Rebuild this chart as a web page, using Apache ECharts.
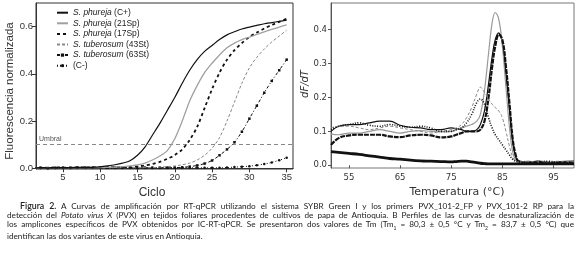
<!DOCTYPE html>
<html>
<head>
<meta charset="utf-8">
<script src="https://cdn.jsdelivr.net/npm/echarts@6/dist/echarts.min.js"></script>
<style>
  body { margin: 0; background: #fff; }
  #grafico { position: absolute; left: 0; top: 0; width: 577px; height: 253px; }
  #leyenda { position: absolute; left: 7px; top: 202px; width: 567px; font-family: Lato, "Open Sans", sans-serif; font-size: 8.2px; line-height: 8.8px; color: #222; z-index: 2; }
  #leyenda div { white-space: nowrap; text-align: justify; text-align-last: justify; }
  #leyenda div.ultima { text-align-last: left; }
  #leyenda b { font-weight: 600; font-size: 8.8px; }
</style>
</head>
<body>
<div id="grafico"></div>
<div id="leyenda">
  <div style="padding-left:13px"><b>Figura 2.</b> A Curvas de amplificación por RT-qPCR utilizando el sistema SYBR Green I y los primers PVX_101-2_FP y PVX_101-2 RP para la</div>
  <div>detección del <i>Potato virus X</i> (PVX) en tejidos foliares procedentes de cultivos de papa de Antioquia. B Perfiles de las curvas de desnaturalización de</div>
  <div>los amplicones específicos de PVX obtenidos por IC-RT-qPCR. Se presentaron dos valores de Tm (Tm<sub style="font-size:5px">1</sub> = 80,3 ± 0,5 °C y Tm<sub style="font-size:5px">2</sub> = 83,7 ± 0,5 °C) que</div>
  <div class="ultima">identifican las dos variantes de este virus en Antioquia.</div>
</div>
<script>
// A: curvas de amplificacion
var ciclos = [1,2,3,4,5,6,7,8,9,10,11,12,13,14,15,16,17,18,19,20,21,22,23,24,25,26,27,28,29,30,31,32,33,34,35];
var nombres = ['S. phureja (C+)', 'S. phureja (21Sp)', 'S. phureja (17Sp)', 'S. tuberosum (43St)', 'S. tuberosum (63St)', '(C-)'];
var ampCmas = [0.002,0.003,0.002,0.003,0.003,0.003,0.004,0.004,0.004,0.006,0.010,0.015,0.022,0.032,0.055,0.090,0.140,0.190,0.245,0.300,0.360,0.415,0.460,0.495,0.520,0.545,0.565,0.578,0.590,0.598,0.605,0.612,0.617,0.622,0.627];
var amp21Sp = [0.003,0.003,0.003,0.003,0.003,0.003,0.003,0.003,0.003,0.003,0.004,0.005,0.007,0.010,0.014,0.022,0.035,0.052,0.075,0.125,0.200,0.285,0.350,0.405,0.445,0.480,0.510,0.530,0.545,0.555,0.567,0.578,0.588,0.598,0.607];
var amp17Sp = [0.001,0.003,0.002,0.004,0.003,0.003,0.004,0.004,0.004,0.004,0.004,0.005,0.005,0.005,0.008,0.012,0.018,0.027,0.040,0.056,0.080,0.120,0.175,0.255,0.335,0.405,0.460,0.500,0.530,0.556,0.575,0.592,0.607,0.620,0.633];
var amp43St = [0.002,0.003,0.003,0.003,0.003,0.003,0.003,0.003,0.003,0.003,0.003,0.003,0.003,0.003,0.003,0.003,0.003,0.005,0.007,0.010,0.015,0.022,0.035,0.055,0.085,0.130,0.200,0.280,0.360,0.425,0.470,0.505,0.535,0.560,0.585];
var amp63St = [0.000,0.002,0.001,0.002,0.002,0.002,0.002,0.002,0.002,0.002,0.002,0.002,0.002,0.002,0.002,0.002,0.002,0.002,0.002,0.003,0.004,0.007,0.012,0.020,0.033,0.055,0.080,0.110,0.155,0.210,0.265,0.320,0.370,0.415,0.460];
var ampCmenos = [-0.002,0.001,0.000,0.001,0.002,0.001,0.002,0.002,0.002,0.002,0.002,0.002,0.002,0.002,0.002,0.002,0.002,0.002,0.002,0.002,0.002,0.002,0.002,0.002,0.002,0.002,0.003,0.005,0.007,0.009,0.013,0.018,0.025,0.034,0.045];
var umbral = 0.105;
var ticksCiclo = [5, 10, 15, 20, 25, 30, 35];
var ticksFluor = [0, 0.2, 0.4, 0.6];

// B: curvas de desnaturalizacion
var temperaturas = [51.5,53,55,57,59,61,63,65,67,69,71,73,75,76,77,78,79,80,80.7,81.5,82.3,83,83.6,84.3,85,85.7,86.4,87,87.6,88.2,90,92,94,96,99];
var desCmas = [0.100,0.115,0.120,0.120,0.125,0.130,0.130,0.118,0.112,0.110,0.105,0.105,0.110,0.108,0.105,0.100,0.100,0.105,0.120,0.160,0.240,0.320,0.370,0.390,0.360,0.270,0.160,0.070,0.025,0.012,0.010,0.012,0.008,0.010,0.012];
var des21Sp = [0.092,0.090,0.095,0.095,0.100,0.105,0.100,0.095,0.100,0.102,0.100,0.098,0.100,0.105,0.110,0.115,0.120,0.130,0.150,0.220,0.330,0.420,0.450,0.430,0.350,0.230,0.110,0.040,0.015,0.010,0.012,0.008,0.010,0.008,0.010];
var des17Sp = [0.060,0.080,0.088,0.090,0.090,0.090,0.085,0.083,0.088,0.090,0.088,0.082,0.085,0.090,0.095,0.100,0.100,0.100,0.105,0.130,0.200,0.290,0.350,0.385,0.370,0.290,0.180,0.080,0.030,0.012,0.008,0.010,0.006,0.008,0.006];
var des43St = [0.110,0.115,0.115,0.110,0.105,0.110,0.115,0.110,0.105,0.100,0.095,0.100,0.105,0.110,0.120,0.140,0.170,0.210,0.230,0.215,0.195,0.180,0.170,0.160,0.140,0.100,0.055,0.025,0.012,0.010,0.010,0.012,0.010,0.012,0.010];
var des63St = [0.105,0.115,0.120,0.125,0.118,0.115,0.120,0.115,0.112,0.115,0.110,0.100,0.100,0.105,0.110,0.125,0.150,0.185,0.195,0.180,0.140,0.110,0.090,0.075,0.060,0.045,0.030,0.018,0.012,0.010,0.008,0.010,0.012,0.008,0.010];
var desCmenos = [0.040,0.038,0.035,0.032,0.028,0.024,0.020,0.018,0.015,0.013,0.012,0.011,0.010,0.011,0.012,0.012,0.010,0.008,0.006,0.005,0.004,0.004,0.004,0.004,0.004,0.004,0.004,0.004,0.004,0.004,0.004,0.004,0.004,0.004,0.004];
var ticksTemp = [55, 65, 75, 85, 95];
var ticksDf = [0, 0.1, 0.2, 0.3, 0.4];

function pares(xs, ys){
  var r = [];
  for(var i = 0; i < xs.length; i++){
    r.push([xs[i], ys[i]]);
  }
  return r;
}

var fuenteA = 'Liberation Sans';
var fuenteB = 'DejaVu Sans';

// estilos de las series (mismo orden que nombres)
var estilos = [
  { color: '#111', width: 1.2, type: 'solid', symbol: 'none' },
  { color: '#a0a0a0', width: 1.3, type: 'solid', symbol: 'none' },
  { color: '#111', width: 1.8, type: [3, 3], symbol: 'none' },
  { color: '#888', width: 1, type: [3, 2], symbol: 'none' },
  { color: '#111', width: 1, type: [3, 2, 1, 2], symbol: 'rect' },
  { color: '#111', width: 1, type: [1, 2], symbol: 'circle' }
];
var amplificacion = [ampCmas, amp21Sp, amp17Sp, amp43St, amp63St, ampCmenos];
var desnaturalizacion = [desCmas, des21Sp, des17Sp, des43St, des63St, desCmenos];
// estilos del panel B
var estilosB = [
  { color: '#111', width: 1.2, type: 'solid' },
  { color: '#999', width: 1.2, type: 'solid' },
  { color: '#111', width: 2.2, type: [5, 1] },
  { color: '#888', width: 1, type: [3, 2] },
  { color: '#111', width: 1.6, type: [1, 1.5] },
  { color: '#111', width: 2.8, type: 'solid' }
];

var series = [];
var itemsLeyenda = [];
for(var i = 0; i < nombres.length; i++){
  var e = estilos[i];
  series.push({
    name: nombres[i],
    type: 'line',
    xAxisIndex: 0,
    yAxisIndex: 0,
    smooth: 0.3,
    symbol: e.symbol,
    symbolSize: 2.5,
    showSymbol: e.symbol !== 'none',
    itemStyle: { color: e.color },
    lineStyle: { color: e.color, width: e.width, type: e.type },
    data: pares(ciclos, amplificacion[i]),
    z: 10 - i
  });
  // sin simbolo en la leyenda cuando la serie no lo tiene
  if(e.symbol === 'none'){
    itemsLeyenda.push({ name: nombres[i], itemStyle: { opacity: 0 } });
  } else {
    itemsLeyenda.push({ name: nombres[i] });
  }
}
// linea umbral
series[0].markLine = {
  silent: true,
  symbol: 'none',
  lineStyle: { color: '#888', width: 1, type: [4, 3] },
  label: { formatter: 'Umbral', position: 'insideStartTop', fontSize: 7, color: '#555', fontFamily: fuenteA, distance: [3, 2] },
  data: [{ yAxis: umbral }]
};

for(var j = 0; j < nombres.length; j++){
  var eb = estilosB[j];
  series.push({
    name: nombres[j] + ' B',
    type: 'line',
    xAxisIndex: 1,
    yAxisIndex: 1,
    smooth: 0.4,
    symbol: 'none',
    lineStyle: { color: eb.color, width: eb.width, type: eb.type },
    data: pares(temperaturas, desnaturalizacion[j])
  });
}

var estiloTitulo = { fill: '#333', textAlign: 'center', textVerticalAlign: 'middle' };

var chart = echarts.init(document.getElementById('grafico'));
var option = {
  animation: false,
  backgroundColor: '#fff',
  legend: {
    data: itemsLeyenda,
    left: 56,
    top: 8,
    padding: 0,
    orient: 'vertical',
    itemWidth: 11,
    itemHeight: 4,
    itemGap: 1.2,
    textStyle: {
      fontSize: 8.5,
      lineHeight: 9.4,
      fontFamily: fuenteA,
      color: '#222',
      rich: { i: { fontStyle: 'italic', fontSize: 8.5, fontFamily: fuenteA, color: '#222' } }
    },
    formatter: function(name){
      var k = name.indexOf(' (');
      if(k < 0) return name;
      return '{i|' + name.substring(0, k) + '}' + name.substring(k);
    }
  },
  // titulos de los ejes
  graphic: [
    { type: 'text', x: 152, y: 193, style: Object.assign({ text: 'Ciclo', font: '12px "Liberation Sans"' }, estiloTitulo) },
    { type: 'text', x: 10, y: 91, rotation: Math.PI / 2, style: Object.assign({ text: 'Fluorescencia normalizada', font: '11.5px "Liberation Sans"' }, estiloTitulo) },
    { type: 'text', x: 457, y: 192.5, style: Object.assign({ text: 'Temperatura (°C)', font: '11px "DejaVu Sans"' }, estiloTitulo) },
    { type: 'text', x: 305, y: 84, rotation: Math.PI / 2, style: Object.assign({ text: 'dF/dT', font: 'italic 10px "DejaVu Sans"' }, estiloTitulo) }
  ],
  grid: [
    { left: 36, top: 3, width: 257, height: 166, show: true, borderColor: '#333', borderWidth: 1, backgroundColor: 'transparent' },
    { left: 331, top: 3, width: 243, height: 165, show: true, borderColor: '#777', borderWidth: 1, backgroundColor: 'transparent' }
  ],
  xAxis: [
    {
      gridIndex: 0, type: 'value', min: 1.4, max: 35.85,
      axisLine: { lineStyle: { color: '#333' } },
      axisTick: { length: 4, lineStyle: { color: '#333' }, customValues: ticksCiclo },
      axisLabel: { fontSize: 9.5, fontFamily: fuenteA, color: '#333', margin: 3, customValues: ticksCiclo },
      splitLine: { show: false }
    },
    {
      gridIndex: 1, type: 'value', min: 51.5, max: 99,
      axisLine: { show: false },
      axisTick: { length: 3, lineStyle: { color: '#555' }, customValues: ticksTemp },
      axisLabel: { fontSize: 8.5, fontFamily: fuenteB, color: '#333', margin: 5, customValues: ticksTemp },
      splitLine: { show: false }
    }
  ],
  yAxis: [
    {
      gridIndex: 0, type: 'value', min: -0.003, max: 0.7,
      axisLine: { show: true, lineStyle: { color: '#333' } },
      axisTick: { show: true, length: 4, lineStyle: { color: '#333' }, customValues: ticksFluor },
      axisLabel: { fontSize: 9.5, fontFamily: fuenteA, color: '#333', margin: 3, customValues: ticksFluor, formatter: function(v){ return v.toFixed(1); } },
      splitLine: { show: false }
    },
    {
      gridIndex: 1, type: 'value', min: -0.008, max: 0.478,
      axisLine: { show: true, lineStyle: { color: '#555' } },
      axisTick: { show: true, length: 3, lineStyle: { color: '#555' }, customValues: ticksDf },
      axisLabel: { fontSize: 8.5, fontFamily: fuenteB, color: '#333', margin: 4, customValues: ticksDf, formatter: function(v){ return v.toFixed(1); } },
      splitLine: { show: false }
    }
  ],
  series: series
};
chart.setOption(option);
</script>
</body>
</html>
